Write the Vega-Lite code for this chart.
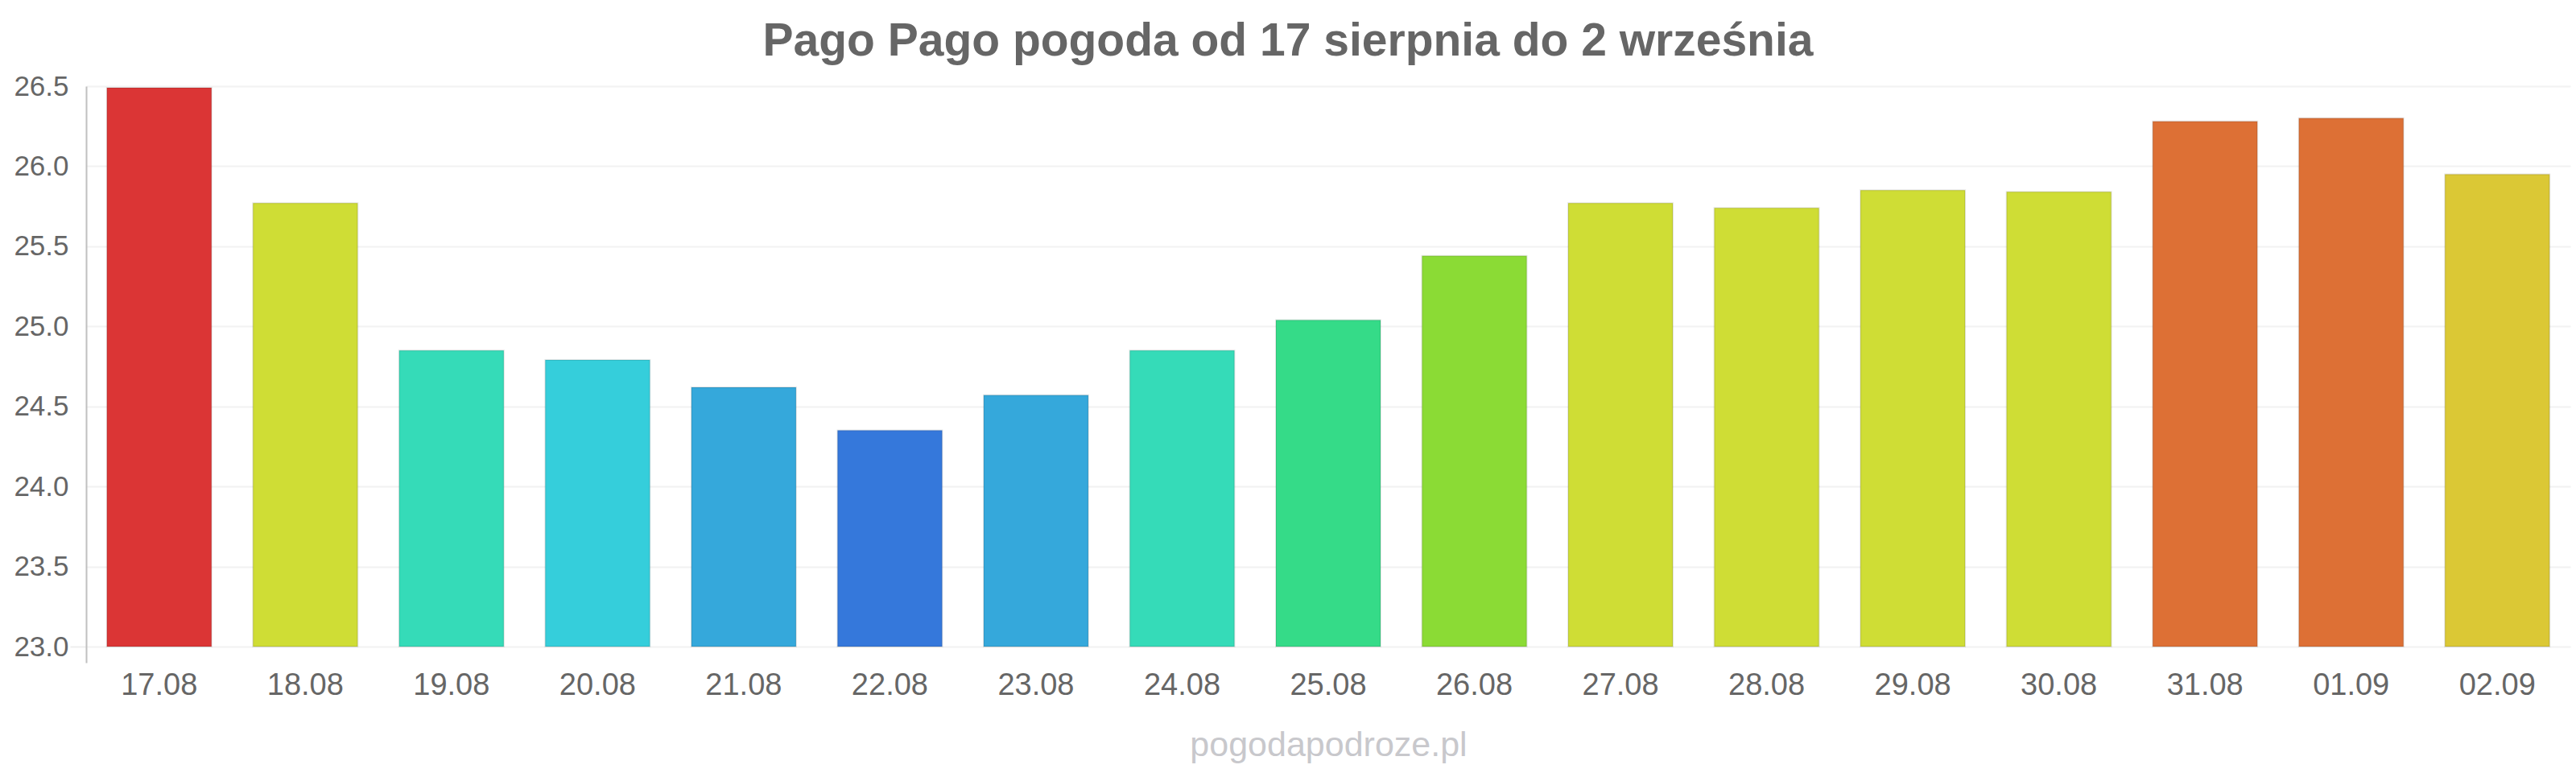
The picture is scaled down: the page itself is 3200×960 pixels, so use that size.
{
  "$schema": "https://vega.github.io/schema/vega-lite/v6.json",
  "autosize": "none",
  "padding": {"left": 107, "top": 107, "right": 7, "bottom": 137},
  "width": 3086,
  "height": 716,
  "background": "white",
  "title": {
    "text": "Pago Pago pogoda od 17 sierpnia do 2 września",
    "fontSize": 57,
    "fontWeight": "bold",
    "font": "Liberation Sans",
    "color": "#666666",
    "anchor": "middle",
    "baseline": "alphabetic",
    "offset": 34,
    "dy": 70,
    "dx": -50
  },
  "data": {
    "values": [
      {"date": "17.08", "temp": 26.49},
      {"date": "18.08", "temp": 25.77},
      {"date": "19.08", "temp": 24.85},
      {"date": "20.08", "temp": 24.79},
      {"date": "21.08", "temp": 24.62},
      {"date": "22.08", "temp": 24.35},
      {"date": "23.08", "temp": 24.57},
      {"date": "24.08", "temp": 24.85},
      {"date": "25.08", "temp": 25.04},
      {"date": "26.08", "temp": 25.44},
      {"date": "27.08", "temp": 25.77},
      {"date": "28.08", "temp": 25.74},
      {"date": "29.08", "temp": 25.85},
      {"date": "30.08", "temp": 25.84},
      {"date": "31.08", "temp": 26.28},
      {"date": "01.09", "temp": 26.30},
      {"date": "02.09", "temp": 25.95}
    ]
  },
  "mark": {"type": "bar", "stroke": "#000000", "strokeOpacity": 0.1, "strokeWidth": 2},
  "encoding": {
    "x": {
      "field": "date",
      "type": "nominal",
      "sort": null,
      "scale": {"paddingInner": 0.284, "paddingOuter": 0.142},
      "axis": {
        "title": "pogodapodroze.pl",
        "titleFont": "Liberation Sans",
        "titleFontSize": 43,
        "titleFontWeight": "normal",
        "titleColor": "#C8C8CC",
        "titlePadding": 34,
        "labelFont": "Liberation Sans",
        "labelFontSize": 38,
        "labelColor": "#666666",
        "labelAngle": 0,
        "labelPadding": 9,
        "domain": false,
        "ticks": false,
        "tickSize": 0
      }
    },
    "y": {
      "field": "temp",
      "type": "quantitative",
      "scale": {"domain": [22.9, 26.5], "zero": false, "nice": false},
      "axis": {
        "title": null,
        "values": [23, 23.5, 24, 24.5, 25, 25.5, 26, 26.5],
        "format": ".1f",
        "labelFont": "Liberation Sans",
        "labelFontSize": 35,
        "labelColor": "#666666",
        "labelPadding": 2,
        "tickSize": 20,
        "tickWidth": 2,
        "tickColor": {"condition": {"test": "datum.value === 23", "value": "#EEEEEE"}, "value": "transparent"},
        "domainColor": "#C0C0C0",
        "domainWidth": 2,
        "gridColor": "#F2F2F2",
        "gridWidth": 2
      }
    },
    "y2": {"datum": 23},
    "color": {
      "field": "date",
      "type": "nominal",
      "legend": null,
      "scale": {
        "domain": ["17.08", "18.08", "19.08", "20.08", "21.08", "22.08", "23.08", "24.08", "25.08", "26.08", "27.08", "28.08", "29.08", "30.08", "31.08", "01.09", "02.09"],
        "range": ["#DB3535", "#CFDD35", "#35DBB8", "#35CEDB", "#35A8DB", "#3578DB", "#35A8DB", "#35DBB8", "#35DB88", "#8BDB35", "#CFDD35", "#CFDD35", "#CFDD35", "#CFDD35", "#DD7035", "#DD7035", "#DBC835"]
      }
    }
  },
  "config": {
    "view": {"stroke": null}
  }
}
